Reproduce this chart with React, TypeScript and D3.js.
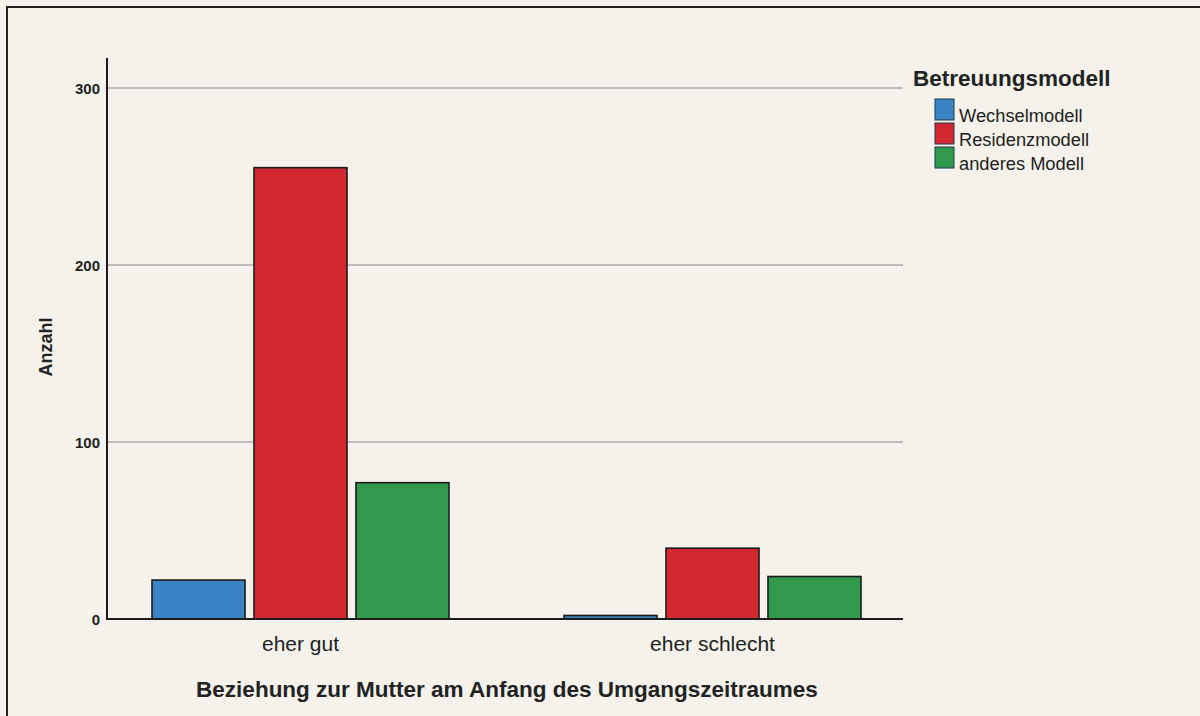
import React from "react";
import * as d3 from "d3";

const categories = ["eher gut", "eher schlecht"];
const seriesNames = ["Wechselmodell", "Residenzmodell", "anderes Modell"];
const wechselValues = [22, 2];
const residenzValues = [255, 40];
const anderesValues = [77, 24];
const yTicks = [0, 100, 200, 300];
const colors = ["#3b84c3", "#d3282f", "#31994d"];

export default function App() {
  const W = 1200, H = 716;
  const plotLeft = 107, plotRight = 903, plotTop = 58, baseY = 619;
  const y = d3.scaleLinear().domain([0, 300]).range([baseY, 88]);
  const x0 = d3.scaleBand<string>().domain(categories).range([94.5, 918.5]).paddingInner(0).paddingOuter(0);
  const bw = x0.bandwidth();
  const x1 = d3.scaleBand<string>().domain(seriesNames).range([bw / 2 - 148.5, bw / 2 + 148.5]).paddingInner(0.088).paddingOuter(0);
  const series = [wechselValues, residenzValues, anderesValues];
  const font = "Arial, 'Liberation Sans', sans-serif";

  return (
    <svg width={W} height={H} style={{ position: "absolute", left: 0, top: 0, display: "block" }}>
      <rect x={0} y={0} width={W} height={H} fill="#f4f2ea" />
      <rect x={7} y={7} width={W + 10} height={H + 10} fill="none" stroke="#222" strokeWidth={2} />
      {yTicks.filter((t) => t > 0).map((t) => (
        <line key={t} x1={plotLeft} x2={plotRight} y1={y(t)} y2={y(t)} stroke="#bdbdbd" strokeWidth={2} />
      ))}
      {categories.map((c, ci) => (
        <g key={c} transform={`translate(${x0(c)},0)`}>
          {seriesNames.map((s, si) => {
            const v = series[si][ci];
            return (
              <rect key={s} x={x1(s)} y={y(v)} width={x1.bandwidth()} height={baseY - y(v)}
                fill={colors[si]} stroke="#1c1c1c" strokeWidth={1.6} />
            );
          })}
          <text x={bw / 2} y={651} textAnchor="middle" fontFamily={font} fontSize={21} fill="#222">{c}</text>
        </g>
      ))}
      <line x1={plotLeft} x2={plotLeft} y1={plotTop} y2={baseY + 1} stroke="#1c1c1c" strokeWidth={2} />
      <line x1={plotLeft} x2={plotRight} y1={baseY} y2={baseY} stroke="#1c1c1c" strokeWidth={2} />
      {yTicks.map((t) => (
        <text key={t} x={100} y={y(t) + 5.5} textAnchor="end" fontFamily={font} fontSize={15} fontWeight="bold" fill="#222">{t}</text>
      ))}
      <text transform="translate(52,347) rotate(-90)" textAnchor="middle" fontFamily={font} fontSize={18} fontWeight="bold" fill="#222">Anzahl</text>
      <text x={507} y={697} textAnchor="middle" fontFamily={font} fontSize={22.5} fontWeight="bold" fill="#222">Beziehung zur Mutter am Anfang des Umgangszeitraumes</text>
      <text x={913} y={86} fontFamily={font} fontSize={22.5} fontWeight="bold" fill="#222">Betreuungsmodell</text>
      {seriesNames.map((s, i) => (
        <g key={s} transform={`translate(935,${99 + i * 24})`}>
          <rect x={0} y={0} width={19} height={21} fill={colors[i]} stroke="#1c3a4a" strokeWidth={1} />
          <text x={24} y={23} fontFamily={font} fontSize={18.3} fill="#222">{s}</text>
        </g>
      ))}
    </svg>
  );
}
